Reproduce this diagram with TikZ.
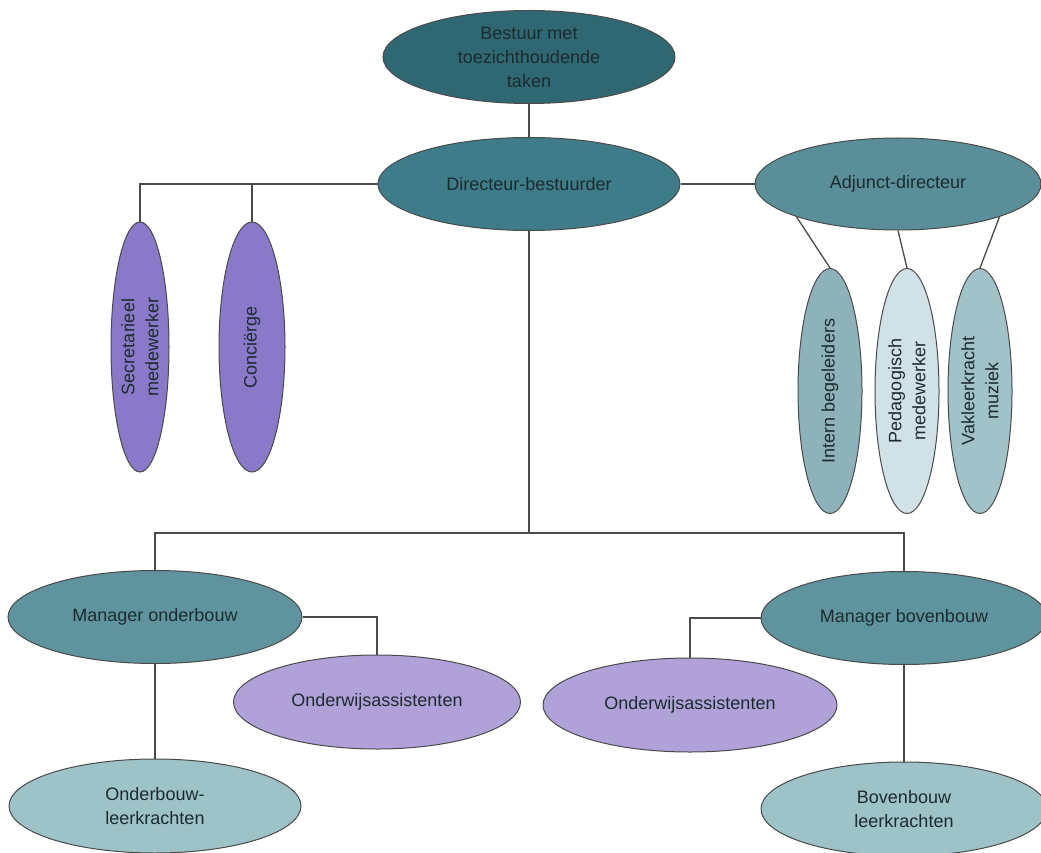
\documentclass[tikz,border=0pt]{standalone}
\usepackage{fontspec}
\setmainfont{Liberation Sans}
\usetikzlibrary{shapes.geometric}
\definecolor{cBestuur}{HTML}{2F6872}
\definecolor{cDir}{HTML}{3D7C88}
\definecolor{cAdj}{HTML}{5A8F9A}
\definecolor{cMan}{HTML}{5F949E}
\definecolor{cLeer}{HTML}{9DC2C8}
\definecolor{cIntern}{HTML}{8DB2BA}
\definecolor{cPed}{HTML}{D0E2E6}
\definecolor{cVak}{HTML}{A0C2C8}
\definecolor{cPurple}{HTML}{8A78C9}
\definecolor{cLila}{HTML}{B1A1D9}
\definecolor{cText}{HTML}{1C2B30}
\definecolor{cLine}{HTML}{4A4A4A}
\tikzset{
  oval/.style={ellipse, draw=cLine, line width=1pt, inner sep=0pt, text=cText,
    font=\fontsize{18}{24}\selectfont, align=center},
  vert/.style={oval, rotate=90},
  conn/.style={draw=cLine, line width=1.3pt}
}
\begin{document}
\begin{tikzpicture}[x=1pt,y=-1pt]
\useasboundingbox (0,0) rectangle (1041,853);
\clip (0,0) rectangle (1041,853);
\node[oval, fill=cBestuur, minimum width=292pt, minimum height=93pt] (best) at (529,57) {Bestuur met\\toezichthoudende\\taken};
\node[oval, fill=cDir, minimum width=302pt, minimum height=93pt] (dir) at (529,184) {Directeur-bestuurder};
\node[oval, fill=cAdj, minimum width=286pt, minimum height=92pt] (adj) at (898,184) {Adjunct-directeur};
\node[vert, fill=cPurple, minimum width=250pt, minimum height=58pt] (sec) at (140,347) {Secretarieel\\medewerker};
\node[vert, fill=cPurple, minimum width=250pt, minimum height=66pt] (con) at (252,347) {Conciërge};
\node[vert, fill=cIntern, minimum width=245pt, minimum height=64pt] (int) at (830,391) {Intern begeleiders};
\node[vert, fill=cPed, minimum width=245pt, minimum height=64pt] (ped) at (907,391) {Pedagogisch\\medewerker};
\node[vert, fill=cVak, minimum width=245pt, minimum height=64pt] (vak) at (980,391) {Vakleerkracht\\muziek};
\node[oval, fill=cMan, minimum width=294pt, minimum height=93pt] (mon) at (155,617) {Manager onderbouw};
\node[oval, fill=cMan, minimum width=286pt, minimum height=93pt] (mbo) at (904,618) {Manager bovenbouw};
\node[oval, fill=cLila, minimum width=287pt, minimum height=94pt] (owl) at (377,702) {Onderwijsassistenten};
\node[oval, fill=cLila, minimum width=294pt, minimum height=94pt] (owr) at (690,705) {Onderwijsassistenten};
\node[oval, fill=cLeer, minimum width=292pt, minimum height=94pt] (olk) at (155,806) {Onderbouw-\\leerkrachten};
\node[oval, fill=cLeer, minimum width=286pt, minimum height=94pt] (blk) at (904,809) {Bovenbouw\\leerkrachten};
\coordinate (junc) at (529,533);
\coordinate (lsplit) at (140,184);
\draw[conn] (best.south) -- (dir.north);
\draw[conn] (dir.west) -- (lsplit) -- (sec.east);
\draw[conn] (con.east) |- (dir.west);
\draw[conn] (dir.east) -- (adj.west);
\draw[conn] (adj.south west) -- (int.east);
\draw[conn] (adj.south) -- (ped.east);
\draw[conn] (adj.south east) -- (vak.east);
\draw[conn] (dir.south) -- (junc);
\draw[conn] (mon.north) |- (junc);
\draw[conn] (mbo.north) |- (junc);
\draw[conn] (mon.east) -| (owl.north);
\draw[conn] (mbo.west) -| (owr.north);
\draw[conn] (mon.south) -- (olk.north);
\draw[conn] (mbo.south) -- (blk.north);
\end{tikzpicture}
\end{document}
